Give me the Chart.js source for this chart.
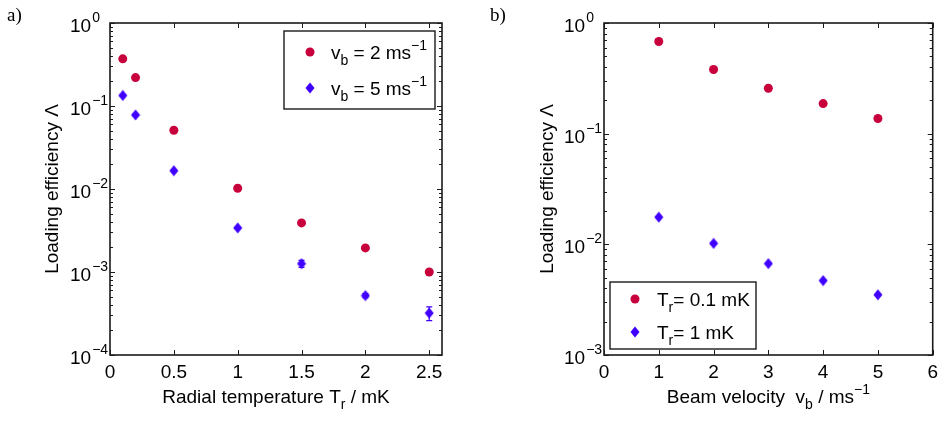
<!DOCTYPE html>
<html>
<head>
<meta charset="utf-8">
<script src="https://cdn.jsdelivr.net/npm/chart.js@4/dist/chart.umd.min.js"></script>
<style>
html,body{margin:0;padding:0;background:#fff;}
#wrap{position:relative;width:944px;height:421px;overflow:hidden;}
.pane{position:absolute;top:0;width:472px;height:421px;}
#pa{left:0}
#pb{left:472px}
</style>
</head>
<body>
<div id="wrap">
  <div class="pane" id="pa"><canvas id="ca" width="472" height="421"></canvas></div>
  <div class="pane" id="pb"><canvas id="cb" width="472" height="421"></canvas></div>
</div>
<script>
// ---------- data (a) ----------
const radialTemp = [0.1, 0.2, 0.5, 1.0, 1.5, 2.0, 2.5];           // T_r / mK
const effV2 = [0.37, 0.22, 0.051, 0.0102, 0.0039, 0.00195, 0.0010]; // v_b = 2 m/s
const effV5 = [0.134, 0.078, 0.0166, 0.0034, 0.00126, 0.00052, 0.00032]; // v_b = 5 m/s
const errV2 = [0.005, 0.003, 0.0007, 0.00015, 0.00006, 0.00003, 0.00002];
const errV5 = [0.003, 0.0018, 0.0004, 0.00009, 0.00012, 0.00003, 0.00006];
const xTicksA = [0, 0.5, 1, 1.5, 2, 2.5];
const yDecadesA = [-4, -3, -2, -1, 0];

// ---------- data (b) ----------
const beamVel = [1, 2, 3, 4, 5];                                   // v_b / m s^-1
const effT01 = [0.68, 0.38, 0.257, 0.187, 0.137];                  // T_r = 0.1 mK
const effT1 = [0.0176, 0.0102, 0.0067, 0.0047, 0.0035];            // T_r = 1 mK
const errT01 = [0.008, 0.005, 0.003, 0.002, 0.0015];
const errT1 = [0.0003, 0.0002, 0.00012, 0.00008, 0.00006];
const xTicksB = [0, 1, 2, 3, 4, 5, 6];
const yDecadesB = [-3, -2, -1, 0];

const RED = '#C8003C';
const BLUE = '#4000FF';
const FONT = '"Liberation Sans", Arial, Helvetica, sans-serif';
const FS = 19, FSS = 14;

function diamondCanvas(color) {
  const c = document.createElement('canvas');
  c.width = 10; c.height = 12;
  const g = c.getContext('2d');
  g.fillStyle = color;
  g.beginPath();
  g.moveTo(5, 0.5); g.lineTo(9.5, 6); g.lineTo(5, 11.5); g.lineTo(0.5, 6); g.closePath();
  g.fill();
  return c;
}
const diamondBlue = diamondCanvas(BLUE);

function drawCircle(ctx, x, y, color) {
  ctx.fillStyle = color;
  ctx.beginPath(); ctx.arc(x, y, 4.5, 0, Math.PI * 2); ctx.fill();
}
function drawDiamond(ctx, x, y, color) {
  ctx.fillStyle = color;
  ctx.beginPath();
  ctx.moveTo(x, y - 5.5); ctx.lineTo(x + 4.5, y); ctx.lineTo(x, y + 5.5); ctx.lineTo(x - 4.5, y); ctx.closePath();
  ctx.fill();
}

// rich text: parts = [[text, mode]] mode 0 normal, 1 sub, 2 sup
function richWidth(ctx, parts) {
  let w = 0;
  for (const [t, m] of parts) {
    ctx.font = (m ? FSS : FS) + 'px ' + FONT;
    w += ctx.measureText(t).width;
  }
  return w;
}
function rich(ctx, parts, x, y, align) {
  const w = richWidth(ctx, parts);
  let cx = align === 'center' ? x - w / 2 : (align === 'right' ? x - w : x);
  ctx.textBaseline = 'alphabetic';
  ctx.textAlign = 'left';
  ctx.fillStyle = '#000';
  for (const [t, m] of parts) {
    ctx.font = (m ? FSS : FS) + 'px ' + FONT;
    const dy = m === 1 ? 6 : (m === 2 ? -9 : 0);
    ctx.fillText(t, cx, y + dy);
    cx += ctx.measureText(t).width;
  }
}

function makePlugin(cfg) {
  return {
    id: 'decor',
    beforeDatasetsDraw(chart) {
      const ctx = chart.ctx;
      const a = chart.chartArea;
      const xs = chart.scales.x, ys = chart.scales.y;
      ctx.save();
      // error bars
      chart.data.datasets.forEach((ds, di) => {
        const errs = cfg.errors[di];
        ctx.strokeStyle = ds.errColor; ctx.lineWidth = 1.2;
        ds.data.forEach((p, i) => {
          const px = xs.getPixelForValue(p.x);
          const y1 = ys.getPixelForValue(p.y + errs[i]);
          const y2 = ys.getPixelForValue(p.y - errs[i]);
          ctx.beginPath();
          ctx.moveTo(px, y1); ctx.lineTo(px, y2);
          ctx.moveTo(px - 3, y1); ctx.lineTo(px + 3, y1);
          ctx.moveTo(px - 3, y2); ctx.lineTo(px + 3, y2);
          ctx.stroke();
        });
      });
      // frame
      ctx.strokeStyle = '#1a1a1a';
      ctx.lineWidth = 1.6;
      ctx.strokeRect(a.left, a.top, a.right - a.left, a.bottom - a.top);
      // x ticks inward (bottom and top)
      ctx.lineWidth = 1;
      ctx.beginPath();
      cfg.xTicks.forEach(v => {
        const px = Math.round(xs.getPixelForValue(v)) + 0.5;
        ctx.moveTo(px, a.bottom); ctx.lineTo(px, a.bottom - 5);
        ctx.moveTo(px, a.top); ctx.lineTo(px, a.top + 5);
      });
      // y ticks inward (left and right), major + minor
      cfg.decades.forEach((d, k) => {
        for (let m = 1; m <= 9; m++) {
          if (k === cfg.decades.length - 1 && m > 1) break;
          const v = m * Math.pow(10, d);
          const py = Math.round(ys.getPixelForValue(v)) + 0.5;
          const len = m === 1 ? 5 : 3;
          ctx.moveTo(a.left, py); ctx.lineTo(a.left + len, py);
          ctx.moveTo(a.right, py); ctx.lineTo(a.right - len, py);
        }
      });
      ctx.stroke();
      // y tick labels 10^n
      cfg.decades.forEach(d => {
        const py = ys.getPixelForValue(Math.pow(10, d));
        ctx.fillStyle = '#000';
        ctx.textAlign = 'left'; ctx.textBaseline = 'alphabetic';
        ctx.font = FS + 'px ' + FONT;
        const x0 = a.left - 40;
        ctx.fillText('10', x0, py + 9);
        const w = ctx.measureText('10').width;
        ctx.font = FSS + 'px ' + FONT;
        ctx.fillText(d === 0 ? '0' : '\u2212' + (-d), x0 + w + 1, py - 1);
      });
      // axis titles
      rich(ctx, cfg.xTitle, (a.left + a.right) / 2 + cfg.xTitleDx, 403, 'center');
      ctx.save();
      ctx.translate(cfg.yTitleX, (a.top + a.bottom) / 2);
      ctx.rotate(-Math.PI / 2);
      ctx.font = FS + 'px ' + FONT;
      ctx.textAlign = 'center'; ctx.textBaseline = 'middle';
      ctx.fillStyle = '#000';
      ctx.fillText('Loading efficiency \u039B', 0, 0);
      ctx.restore();
      // panel letter
      ctx.font = '19px "Liberation Serif", "Times New Roman", serif';
      ctx.textAlign = 'left'; ctx.textBaseline = 'alphabetic';
      ctx.fillStyle = '#000';
      ctx.fillText(cfg.letter, cfg.letterX, 21);
      ctx.restore();
    },
    afterDraw(chart) {
      const ctx = chart.ctx;
      const L = cfg.legend;
      ctx.save();
      ctx.fillStyle = '#fff';
      ctx.fillRect(L.x, L.y, L.w, L.h);
      ctx.strokeStyle = '#1a1a1a';
      ctx.lineWidth = 1.4;
      ctx.strokeRect(L.x, L.y, L.w, L.h);
      chart.data.datasets.forEach((ds, i) => {
        const my = L.rows[i];
        if (ds.shape === 'circle') drawCircle(ctx, L.mx, my, ds.backgroundColor);
        else drawDiamond(ctx, L.mx, my, ds.backgroundColor);
        rich(ctx, ds.rich, L.tx, my + 7, 'left');
      });
      ctx.restore();
    }
  };
}

function pts(xs, ys) { return xs.map((x, i) => ({ x: x, y: ys[i] })); }

function makeChart(id, o) {
  return new Chart(document.getElementById(id), {
    type: 'scatter',
    data: {
      datasets: [
        { label: o.labels[0], data: pts(o.x, o.y1), shape: 'circle', rich: o.rich[0],
          pointStyle: 'circle', pointRadius: 4.5, pointHoverRadius: 4.5,
          backgroundColor: RED, borderColor: RED, borderWidth: 0, errColor: RED },
        { label: o.labels[1], data: pts(o.x, o.y2), shape: 'diamond', rich: o.rich[1],
          pointStyle: diamondBlue, pointRadius: 5, pointHoverRadius: 5,
          backgroundColor: BLUE, borderColor: BLUE, borderWidth: 0, errColor: BLUE }
      ]
    },
    options: {
      responsive: false,
      animation: false,
      devicePixelRatio: 1,
      events: [],
      layout: { padding: { left: 0, right: o.padRight, top: 23, bottom: 0 } },
      plugins: { legend: { display: false }, tooltip: { enabled: false } },
      scales: {
        x: {
          type: 'linear', min: o.xmin, max: o.xmax,
          afterBuildTicks: s => { s.ticks = o.xTicks.map(v => ({ value: v })); },
          afterFit: s => { s.height = 66; },
          grid: { display: false, drawTicks: false },
          border: { display: false },
          ticks: { color: '#000', font: { family: FONT, size: FS }, padding: 6, maxRotation: 0, autoSkip: false,
                   callback: v => String(v) }
        },
        y: {
          type: 'logarithmic', min: o.ymin, max: 1,
          afterFit: s => { s.width = o.yWidth; },
          grid: { display: false, drawTicks: false },
          border: { display: false },
          ticks: { display: false }
        }
      }
    },
    plugins: [makePlugin(o.plug)]
  });
}

makeChart('ca', {
  x: radialTemp, y1: effV2, y2: effV5,
  labels: ['v_b = 2 ms^-1', 'v_b = 5 ms^-1'],
  rich: [
    [['v', 0], ['b', 1], [' = 2 ms', 0], ['\u22121', 2]],
    [['v', 0], ['b', 1], [' = 5 ms', 0], ['\u22121', 2]]
  ],
  xmin: 0, xmax: 2.6, xTicks: xTicksA, ymin: 1e-4, padRight: 30, yWidth: 110,
  plug: {
    errors: [errV2, errV5], xTicks: xTicksA, decades: yDecadesA,
    xTitle: [['Radial temperature T', 0], ['r', 1], [' / mK', 0]], xTitleDx: 0,
    yTitleX: 53, letter: 'a)', letterX: 7,
    legend: { x: 284, y: 31, w: 151, h: 78, mx: 310, tx: 331, rows: [52, 88] }
  }
});

makeChart('cb', {
  x: beamVel, y1: effT01, y2: effT1,
  labels: ['T_r = 0.1 mK', 'T_r = 1 mK'],
  rich: [
    [['T', 0], ['r', 1], ['= 0.1 mK', 0]],
    [['T', 0], ['r', 1], ['= 1 mK', 0]]
  ],
  xmin: 0, xmax: 6, xTicks: xTicksB, ymin: 1e-3, padRight: 8, yWidth: 132,
  plug: {
    errors: [errT01, errT1], xTicks: xTicksB, decades: yDecadesB,
    xTitle: [['Beam velocity  v', 0], ['b', 1], [' / ms', 0], ['\u22121', 2]], xTitleDx: 0,
    yTitleX: 76, letter: 'b)', letterX: 18,
    legend: { x: 138, y: 282, w: 146, h: 67, mx: 163, tx: 185, rows: [299, 332] }
  }
});
</script>
</body>
</html>
